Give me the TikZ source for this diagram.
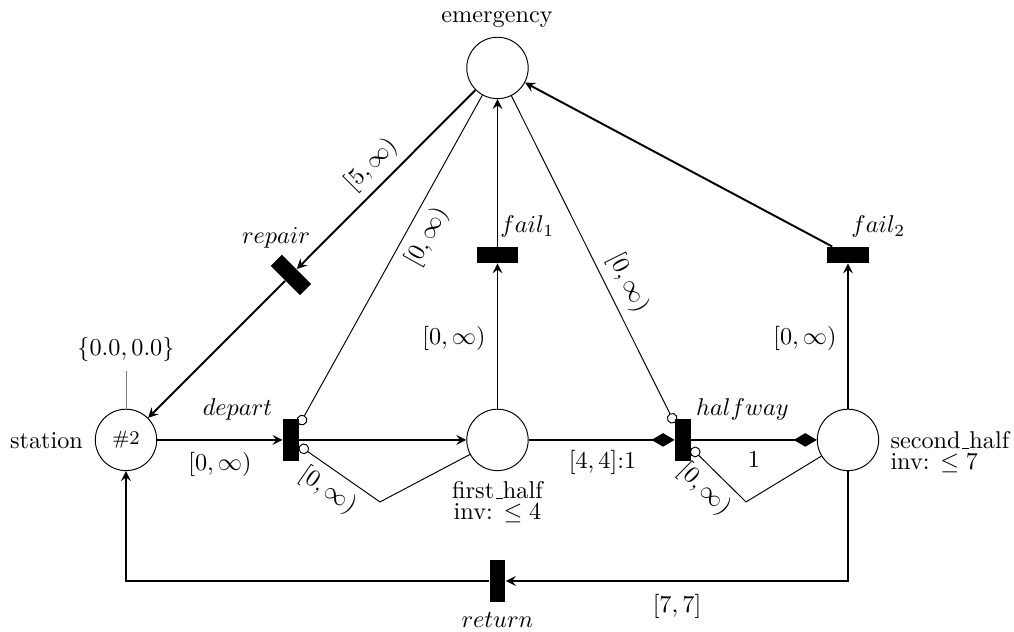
\documentclass[tikz,border=0pt]{standalone}
\usetikzlibrary{arrows,arrows.meta}
\newcommand{\uscore}{\leavevmode\kern.06em\vbox{\hrule width.3em}}
\begin{document}
\begin{tikzpicture}[>=stealth,
    place/.style={circle, draw, thin, minimum size=0.89cm, inner sep=0pt},
    trans/.style={rectangle, fill=black, minimum width=0.23cm, minimum height=0.6cm, inner sep=0pt},
    htrans/.style={trans, minimum width=0.6cm, minimum height=0.23cm},
    arc/.style={->, thick},
    transport/.style={-{Diamond[length=9.5pt, width=5.6pt]}, thick},
    inhib/.style={-{Circle[open, length=4.4pt]}, thin},
    lbl/.style={inner sep=0pt, anchor=base}]
    \useasboundingbox (0,0) rectangle (14.696,9.159);

    % places
    \node[place] (station) at (1.826,2.783) {\footnotesize\#2};
    \node[place] (first_half) at (7.210,2.783) {};
    \node[place] (second_half) at (12.290,2.783) {};
    \node[place] (emergency) at (7.210,8.174) {};

    % transitions
    \node[trans] (depart) at (4.217,2.783) {};
    \node[trans] (halfway) at (9.899,2.783) {};
    \node[htrans] (fail1) at (7.210,5.464) {};
    \node[htrans] (fail2) at (12.290,5.464) {};
    \node[trans, rotate=45] (repair) at (4.217,5.174) {};
    \node[trans] (return) at (7.210,0.739) {};

    \coordinate (dbend) at (5.507,1.884);
    \coordinate (hbend) at (10.812,1.884);

    % labels
    \node[lbl] (stationlbl) at (0.674,2.662) {station};
    \node[anchor=base] (stationinv) at (1.826,4.0) {$\{0.0, 0.0\}$};
    \draw[help lines] (station) -- (stationinv);
    \node[lbl] (emergencylbl) at (7.203,8.836) {emergency};
    \node[lbl, anchor=north, align=center] (firstlbl) at (7.210,2.183)
        {first\uscore half\\[-3.4pt]inv: $\leq 4$};
    \node[lbl, anchor=north west, align=left] (secondlbl) at (12.899,2.907)
        {second\uscore half\\[-3.4pt]inv: $\leq 7$};
    \node[lbl] (departlbl) at (3.442,3.130) {$depart$};
    \node[lbl] (halfwaylbl) at (10.761,3.130) {$halfway$};
    \node[lbl, anchor=base west] (fail1lbl) at (7.246,5.79) {$fail_1$};
    \node[lbl, anchor=base west] (fail2lbl) at (12.333,5.79) {$fail_2$};
    \node[lbl] (repairlbl) at (4.0,5.623) {$repair$};
    \node[lbl] (returnlbl) at (7.210,0.062) {$return$};

    % arcs
    \draw[arc] (station) -- (depart);
    \node[lbl] (w1) at (3.188,2.338) {$[0,\infty)$};
    \draw[arc] (depart) -- (first_half);
    \draw[transport] (first_half) -- (halfway);
    \node[lbl] (w2) at (8.732,2.372) {$[4,4]$:1};
    \draw[transport] (halfway) -- (second_half);
    \node[lbl] (w3) at (10.928,2.38) {1};
    \draw[arc] (first_half) -- (fail1);
    \node[lbl] (w4) at (6.580,4.17) {$[0,\infty)$};
    \draw[arc] (fail1) -- (emergency);
    \draw[arc] (second_half) -- (fail2);
    \node[lbl] (w5) at (11.667,4.17) {$[0,\infty)$};
    \draw[arc] (fail2) -- (emergency);
    \draw[arc] (emergency) -- node[sloped, above] (w6) {$[5,\infty)$} (repair);
    \draw[arc] (repair) -- (station);
    \draw[inhib] (emergency) -- node[sloped, below, pos=0.4] (w7) {$[0,\infty)$} (depart);
    \draw[inhib] (emergency) -- node[sloped, above, pos=0.6] (w8) {$[0,\infty)$} (halfway);
    \draw[inhib] (first_half) -- (dbend) -- node[sloped, below] (w9) {$[0,\infty)$} (depart);
    \draw[inhib] (second_half) -- (hbend) -- node[sloped, below] (w10) {$[0,\infty)$} (halfway);
    \draw[arc] (second_half) |- (return);
    \node[lbl] (w11) at (9.812,0.275) {$[7,7]$};
    \draw[arc] (return) -| (station);
\end{tikzpicture}
\end{document}
